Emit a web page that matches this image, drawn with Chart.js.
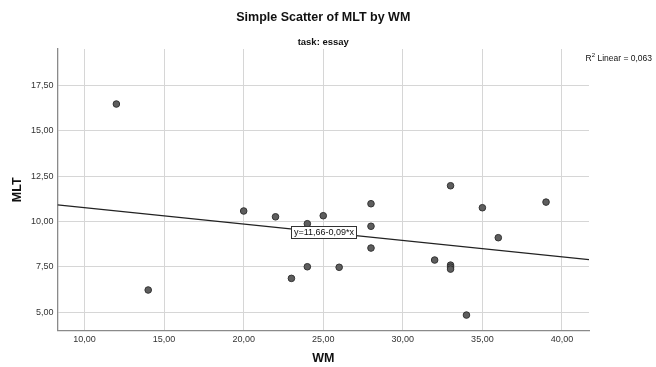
<!DOCTYPE html>
<html>
<head>
<meta charset="utf-8">
<script src="https://cdn.jsdelivr.net/npm/chart.js@4/dist/chart.umd.min.js"></script>
<style>
  html, body { margin: 0; padding: 0; background: #ffffff; }
  #wrap { width: 656px; height: 367px; }
</style>
</head>
<body>
<div id="wrap"><canvas id="c" width="656" height="367"></canvas></div>
<script>
// Working memory (WM) and MLT scores, task: essay
const wmValues  = [12, 14, 20, 22, 23, 24, 24, 25, 26, 28, 28, 28, 32, 33, 33, 33, 33, 34, 35, 36, 39];
const mltValues = [16.47, 6.23, 10.58, 10.26, 6.87, 9.88, 7.51, 10.32, 7.48, 10.98, 9.74, 8.54, 7.88, 11.97, 7.60, 7.49, 7.38, 4.85, 10.76, 9.11, 11.07];

// Linear fit y = a + b*x and its R²
const fitCoefficients = [11.66, -0.09];
const fitRSquared = [0.063];

// Axis ranges and tick labels
const xRange = [8.3, 41.7];
const yRange = [4.0, 19.5];
const xTicks = [10, 15, 20, 25, 30, 35, 40];
const yTicks = [5, 7.5, 10, 12.5, 15, 17.5];

const fmt = (v) => v.toFixed(2).replace('.', ',');
const fmtShort = (v) => Math.abs(v).toFixed(2).replace('.', ',');

const points = wmValues.map((x, i) => ({ x: x, y: mltValues[i] }));
const fitLine = xRange.map((x) => ({ x: x, y: fitCoefficients[0] + fitCoefficients[1] * x }));

const FONT = '"Liberation Sans", Arial, sans-serif';

// Titles, R² note and the equation label on the fit line
const annotations = {
  id: 'annotations',
  afterDatasetsDraw(chart) {
    const { ctx, chartArea, scales } = chart;
    ctx.save();
    ctx.fillStyle = '#111';
    ctx.textAlign = 'center';
    ctx.textBaseline = 'middle';
    ctx.font = 'bold 12.5px ' + FONT;
    ctx.fillText('Simple Scatter of MLT by WM', (chartArea.left + chartArea.right) / 2, 18);
    ctx.font = 'bold 9.5px ' + FONT;
    ctx.fillText('task: essay', (chartArea.left + chartArea.right) / 2, 42);

    // R² Linear note, right aligned
    ctx.textBaseline = 'alphabetic';
    ctx.textAlign = 'left';
    const rest = ' Linear = ' + fitRSquared[0].toFixed(3).replace('.', ',');
    ctx.font = '8.5px ' + FONT;
    const wR = ctx.measureText('R').width;
    const wRest = ctx.measureText(rest).width;
    ctx.font = '6px ' + FONT;
    const wSup = ctx.measureText('2').width;
    let x0 = 652 - (wR + wSup + wRest);
    const base = 61;
    ctx.font = '8.5px ' + FONT;
    ctx.fillText('R', x0, base);
    ctx.font = '6px ' + FONT;
    ctx.fillText('2', x0 + wR, base - 4);
    ctx.font = '8.5px ' + FONT;
    ctx.fillText(rest, x0 + wR + wSup, base);

    // Equation box centred on the fit line at the middle of the x range
    const xm = (xRange[0] + xRange[1]) / 2;
    const px = scales.x.getPixelForValue(xm);
    const py = scales.y.getPixelForValue(fitCoefficients[0] + fitCoefficients[1] * xm);
    const sign = fitCoefficients[1] < 0 ? '-' : '+';
    const label = 'y=' + fmtShort(fitCoefficients[0]) + sign + fmtShort(fitCoefficients[1]) + '*x';
    ctx.font = '9px ' + FONT;
    const tw = ctx.measureText(label).width;
    const bw = Math.round(tw + 5), bh = 12;
    const bx = Math.round(px - bw / 2) + 0.5, by = Math.round(py - bh / 2) + 0.5;
    ctx.fillStyle = '#ffffff';
    ctx.fillRect(bx, by, bw, bh);
    ctx.strokeStyle = '#333';
    ctx.lineWidth = 1;
    ctx.strokeRect(bx, by, bw, bh);
    ctx.fillStyle = '#111';
    ctx.textAlign = 'center';
    ctx.textBaseline = 'middle';
    ctx.fillText(label, bx + bw / 2, by + bh / 2 + 0.5);
    ctx.restore();
  }
};

new Chart(document.getElementById('c'), {
  type: 'scatter',
  data: {
    datasets: [
      {
        type: 'line',
        data: fitLine,
        borderColor: '#222',
        borderWidth: 1.2,
        pointRadius: 0,
        fill: false,
        order: 2
      },
      {
        data: points,
        backgroundColor: '#5e5e5e',
        borderColor: '#333',
        borderWidth: 1,
        pointRadius: 3.3,
        order: 1
      }
    ]
  },
  options: {
    responsive: false,
    animation: false,
    events: [],
    layout: { padding: { left: 0, top: 49, right: 67, bottom: 0 } },
    plugins: { legend: { display: false }, tooltip: { enabled: false }, title: { display: false } },
    scales: {
      x: {
        type: 'linear',
        min: xRange[0],
        max: xRange[1],
        afterBuildTicks: (s) => { s.ticks = xTicks.map((v) => ({ value: v })); },
        afterFit: (s) => { s.height = 36.5; },
        ticks: {
          callback: (v) => fmt(v),
          font: { family: FONT, size: 9 },
          color: '#333',
          padding: 4,
          maxRotation: 0,
          autoSkip: false
        },
        grid: { color: '#d6d6d6', lineWidth: 1, drawTicks: false },
        border: { color: '#8a8a8a', width: 1.3 },
        title: {
          display: true,
          text: 'WM',
          font: { family: FONT, size: 12.5, weight: 'bold' },
          color: '#111',
          padding: { top: 0, bottom: 1 }
        }
      },
      y: {
        type: 'linear',
        min: yRange[0],
        max: yRange[1],
        afterBuildTicks: (s) => { s.ticks = yTicks.map((v) => ({ value: v })); },
        afterFit: (s) => { s.width = 57.5; },
        ticks: {
          callback: (v) => fmt(v),
          font: { family: FONT, size: 9 },
          color: '#333',
          padding: 4,
          autoSkip: false
        },
        grid: { color: '#d6d6d6', lineWidth: 1, drawTicks: false },
        border: { color: '#8a8a8a', width: 1.3 },
        title: {
          display: true,
          text: 'MLT',
          font: { family: FONT, size: 12.5, weight: 'bold' },
          color: '#111',
          padding: { top: 10, bottom: 0 }
        }
      }
    }
  },
  plugins: [annotations]
});
</script>
</body>
</html>
